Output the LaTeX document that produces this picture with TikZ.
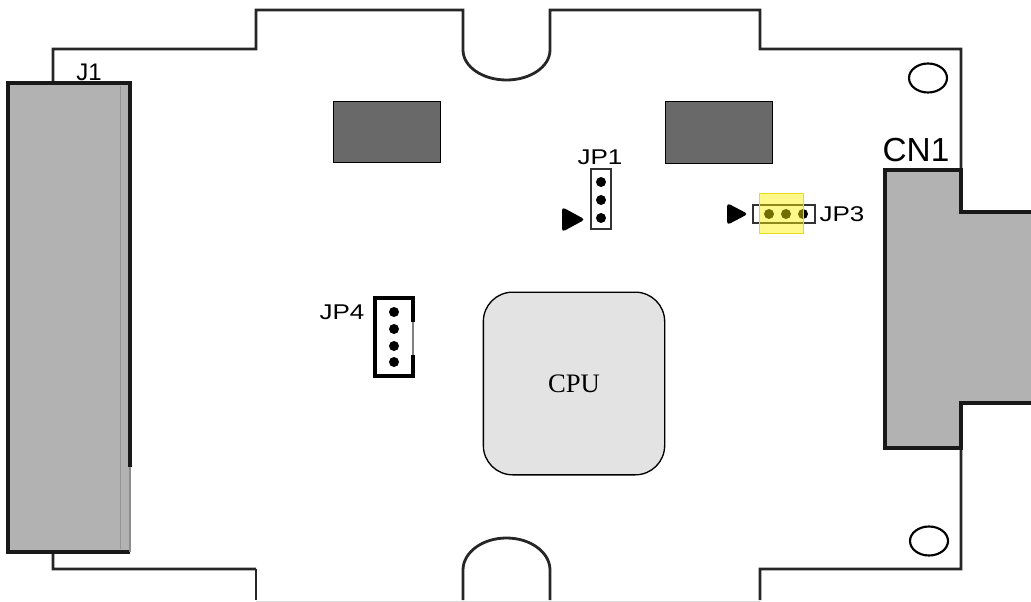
\documentclass[tikz,border=0pt]{standalone}
\usepackage{fontspec}
\setmainfont{Liberation Serif}
\setsansfont{Liberation Sans}
\begin{document}
\begin{tikzpicture}[x=0.75pt,y=0.75pt,yscale=-1,xscale=1,
  outline/.style={line width=2.1pt, color=black!85},
  plug/.style={line width=2.4pt, color=black!90},
  chip/.style={draw=black, line width=0.8pt, fill=black!59, minimum width=80pt, minimum height=46pt, inner sep=0pt},
  header/.style={draw=black!80, line width=1.3pt, fill=white, inner sep=0pt},
  pin/.style={fill=black},
  pointer/.style={fill=black, rounded corners=2.5pt},
  tag/.style={font=\sffamily\fontsize{16}{19}\selectfont, xscale=1.22, inner sep=0.75pt},
  cpu/.style={draw=black, line width=1pt, fill=black!11, rounded corners=22pt, minimum width=136pt, minimum height=137pt, font=\fontsize{20}{24}\selectfont}
]
%set diagram size 1031 x 602
\useasboundingbox (0,0) rectangle (1031,602);

%Shape: Board outline
\draw [outline]  (256,569) -- (53,569) -- (53,49) -- (256,49) -- (256,10) -- (463,10) -- (463,50) arc[start angle=180, end angle=0, x radius=43.5, y radius=30] -- (550,10) -- (760,10) -- (760,49) -- (961,49) -- (961,569) -- (760,569) -- (760,600) ;
\draw [outline]  (550,600) -- (550,570) arc[start angle=0, end angle=-180, x radius=43.5, y radius=32] -- (463,600) ;
\draw [outline]  (256,569) -- (256,600) ;
%Straight Lines (board lower edge)
\draw [black!15, line width=0.6pt]  (256,601) -- (760,601) ;

%Shape: Ellipse (mounting holes)
\draw [line width=1.6pt]  (928,78) ellipse [x radius=19, y radius=14.5] ;
\draw [line width=1.6pt]  (929,541) ellipse [x radius=19, y radius=14.5] ;

%Shape: Connector J1
\fill [black!30]  (8,83) rectangle (130,552) ;
\draw [black!42, line width=0.5pt]  (120,86) -- (120,549) ;
\draw [plug]  (130,467) -- (130,83) -- (8,83) -- (8,552) -- (130,552) ;
\draw [black!45, line width=0.8pt]  (130,467) -- (130,552) ;

%Shape: Connector CN1
\fill [black!30]  (885,170) -- (961,170) -- (961,212) -- (1031,212) -- (1031,403) -- (961,403) -- (961,448) -- (885,448) -- cycle ;
\draw [plug]  (1031,212) -- (961,212) -- (961,170) -- (885,170) -- (885,448) -- (961,448) -- (961,403) -- (1031,403) ;

%Shape: Rectangle (chips)
\node [chip] (chipL) at (387,132) {};
\node [chip] (chipR) at (719,132.5) {};

%Shape: CPU
\node [cpu] (cpu) at (574,383.5) {CPU};

%Shape: JP1
\node [header, minimum width=14.5pt, minimum height=45pt] (jp1) at (601,199) {};
\foreach \y in {182,200,218} \fill [pin] (601,\y) circle (5) ;
\fill [pointer]  (562,207) -- (585,219.5) -- (562,232) -- cycle ;

%Shape: JP3
\node [header, minimum width=46pt, minimum height=13.5pt] (jp3) at (784,214) {};
\foreach \x in {769,786,803} \fill [pin] (\x,214) circle (5) ;
\fill [yellow, opacity=0.45]  (759,193) rectangle (803,233) ;
\draw [yellow!90!black, line width=0.6pt]  (759,193) rectangle (803,233) ;
\fill [pointer]  (727,203) -- (748,214) -- (727,225) -- cycle ;

%Shape: JP4
\draw [line width=3pt]  (413,322) -- (413,298) -- (375,298) -- (375,376) -- (413,376) -- (413,355) ;
\draw [black!50, line width=0.8pt]  (413,322) -- (413,355) ;
\coordinate (jp4) at (394,337);
\foreach \y in {312,329,346,362} \fill [pin] (394,\y) circle (5) ;

% Text Node
\node [font=\sffamily\fontsize{18}{21}\selectfont, inner sep=0.75pt] (lblJ1) at (89,72) {J1};
% Text Node
\node [tag] (lblJP1) at (600,157) {JP1};
% Text Node
\node [tag, anchor=west] (lblJP3) at (818,214) {JP3};
% Text Node
\node [tag, anchor=east] (lblJP4) at (366,312) {JP4};
% Text Node
\node [font=\sffamily\fontsize{25}{29}\selectfont, inner sep=0.75pt] (lblCN1) at (916,150) {CN1};

\end{tikzpicture}
\end{document}
